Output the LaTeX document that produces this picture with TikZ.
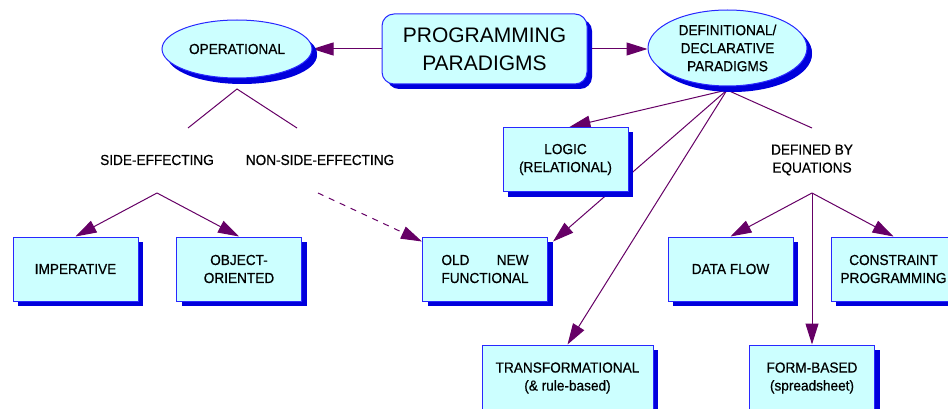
\documentclass[tikz,border=0pt]{standalone}
\usepackage{fontspec}
\usepackage{calc}
\setmainfont{Liberation Sans}
\newfontfamily\smallf[FakeStretch=0.94,FakeBold=0.6]{Liberation Sans}
\usetikzlibrary{shapes.geometric,shadows,arrows.meta}
\definecolor{boxfill}{RGB}{204,255,255}
\definecolor{boxline}{RGB}{40,40,255}
\definecolor{shadowblue}{RGB}{0,0,220}
\definecolor{linkpurple}{RGB}{102,0,102}
\pgfdeclarelayer{bg}
\pgfsetlayers{bg,main}
\begin{document}
\begin{tikzpicture}[x=1pt,y=-1pt,
  txt/.style={font=\smallf\fontsize{14.5}{18}\selectfont, align=center, inner sep=0pt},
  box/.style={txt, rectangle, draw=boxline, fill=boxfill, line width=1pt,
    minimum width=125pt, minimum height=64pt,
    drop shadow={shadow xshift=5pt, shadow yshift=-5pt, fill=shadowblue, opacity=1}},
  oval/.style={box, ellipse, inner sep=0pt,
    drop shadow={shadow xshift=5pt, shadow yshift=-6pt, fill=shadowblue, opacity=1}},
  link/.style={draw=linkpurple, line width=1pt},
  arr/.style={link, -{Triangle[length=21pt,width=13pt]}},
]
\useasboundingbox (0,0) rectangle (948,409);
\begin{pgfonlayer}{bg}
\fill[white] (0,0) rectangle (948,409);
\end{pgfonlayer}
\clip (0,0) rectangle (948,409);

% top nodes
\node[box, rounded corners=12pt, minimum width=205pt, minimum height=70pt,
      font=\fontsize{21}{28}\selectfont] (pp) at (484.5,49) {PROGRAMMING\\PARADIGMS};
\node[oval, minimum width=150pt, minimum height=58pt] (op) at (237,49) {OPERATIONAL};
\node[oval, minimum width=159pt, minimum height=76pt] (def) at (727.5,48) {DEFINITIONAL/\\DECLARATIVE\\PARADIGMS};

% plain labels
\node[txt] (se) at (157,160) {SIDE-EFFECTING};
\node[txt] (nse) at (320,160) {NON-SIDE-EFFECTING};
\node[txt] (dbe) at (812,160) {DEFINED BY\\EQUATIONS};

% boxes
\node[box] (imp) at (75.5,269) {IMPERATIVE};
\node[box] (oo) at (239,269) {OBJECT-\\ORIENTED};
\node[box] (fun) at (485,269) {\makebox[\widthof{FUNCTIONAL}]{OLD\hfill NEW}\\FUNCTIONAL};
\node[box] (logic) at (565.5,159.5) {LOGIC\\(RELATIONAL)};
\node[box] (flow) at (730.5,269) {DATA FLOW};
\node[box] (con) at (893.5,269) {CONSTRAINT\\PROGRAMMING};
\node[box, minimum width=171pt, minimum height=66pt] (trans) at (567.5,378) {TRANSFORMATIONAL\\(\& rule-based)};
\node[box, minimum height=66pt] (form) at (812,378) {FORM-BASED\\(spreadsheet)};

% junction points
\coordinate (opv) at (237,89);
\coordinate (seT) at (188,128);
\coordinate (nseT) at (297,128);
\coordinate (sev) at (157,193);
\coordinate (nsev) at (318,193);
\coordinate (defv) at (727,90);
\coordinate (dbeT) at (812,128);
\coordinate (dbev) at (812,193);

\begin{pgfonlayer}{bg}
\draw[arr] (pp.west) -- (op.east |- pp.west);
\draw[arr] (pp.east) -- (def.west |- pp.east);
\draw[link] (seT) -- (opv) -- (nseT);
\draw[arr] (sev) -- (imp.north);
\draw[arr] (sev) -- (oo.north);
\draw[arr, dash pattern=on 6pt off 6pt] (nsev) -- ([yshift=-5pt]fun.north west);
\draw[arr] (defv) -- ([xshift=4pt]logic.north);
\draw[arr] (defv) -- ([xshift=5pt,yshift=-5pt]fun.north east);
\draw[arr] (defv) -- (trans.north);
\draw[link] (defv) -- (dbeT);
\draw[arr] (dbev) -- (flow.north);
\draw[arr] (dbev) -- (con.north);
\draw[arr] (dbev) -- (form.north);
\end{pgfonlayer}
\end{tikzpicture}
\end{document}
